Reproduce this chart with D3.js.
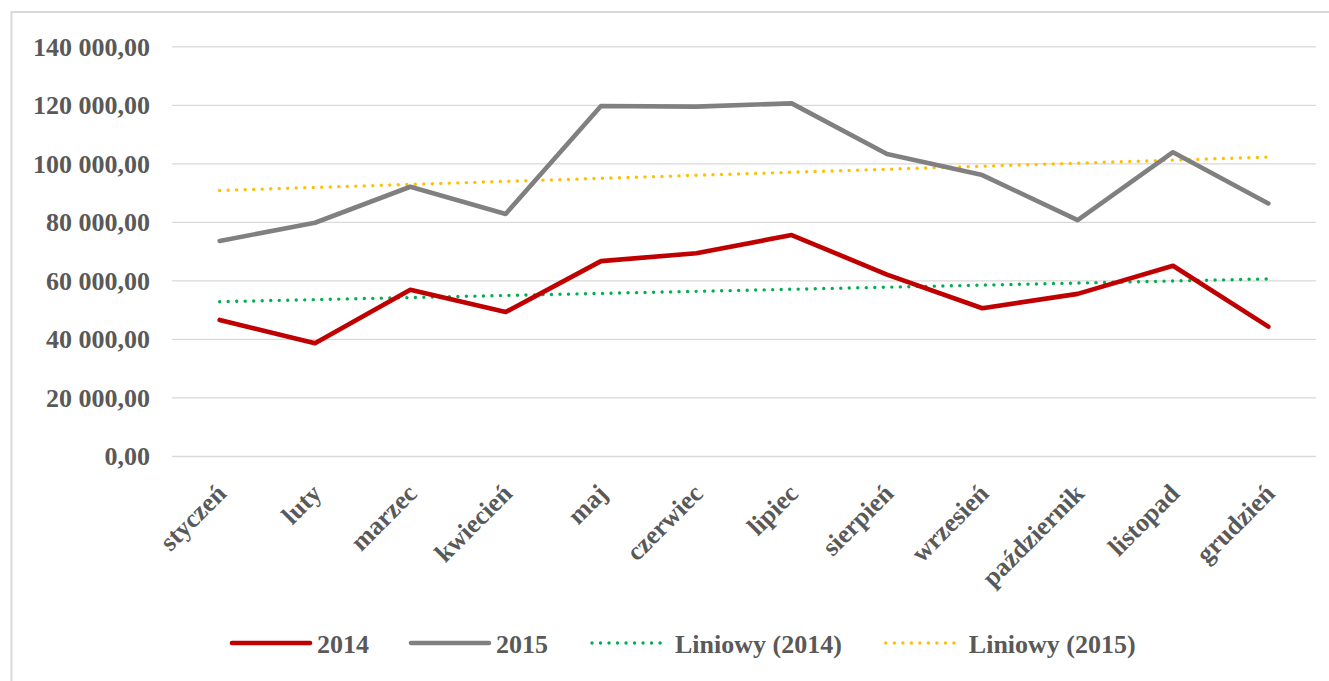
<!DOCTYPE html>
<html>
<head>
<meta charset="utf-8">
<script src="https://cdn.jsdelivr.net/npm/d3@7/dist/d3.min.js"></script>
<style>
  html, body { margin: 0; padding: 0; background: #ffffff; }
  svg { display: block; }
  text { font-family: "Liberation Serif", "Times New Roman", serif; font-weight: bold; fill: #595959; }
</style>
</head>
<body>
<svg id="chart" width="1329" height="681"></svg>
<script>
const months = ["styczeń","luty","marzec","kwiecień","maj","czerwiec","lipiec","sierpień","wrzesień","październik","listopad","grudzień"];
const values2014 = [46500, 38500, 56800, 49200, 66600, 69300, 75500, 62000, 50500, 55400, 65000, 44200];
const values2015 = [73500, 79700, 92000, 82700, 119600, 119400, 120500, 103200, 96000, 80600, 103800, 86300];
const yTicks = [0, 20000, 40000, 60000, 80000, 100000, 120000, 140000];
const legendLabels = ["2014", "2015", "Liniowy (2014)", "Liniowy (2015)"];

const colors = { s2014: "#C00000", s2015: "#808080", t2014: "#00B050", t2015: "#FFC000" };

const svg = d3.select("#chart");
const plot = { left: 172, right: 1316, top: 46.3, bottom: 456 };

// outer frame
svg.append("rect").attr("x", 11.5).attr("y", 12).attr("width", 1340).attr("height", 700)
  .attr("fill", "none").attr("stroke", "#d9d9d9").attr("stroke-width", 2);

const x = d3.scaleBand().domain(months).range([plot.left, plot.right]).padding(0);
const xc = m => x(m) + x.bandwidth() / 2;
const y = d3.scaleLinear().domain([0, 140000]).range([plot.bottom, plot.top]);

const fmt = v => {
  const s = d3.format(",.2f")(v);
  return s.replace(/,/g, " ").replace(".", ",");
};

// gridlines + y labels via axis
const yAxis = d3.axisLeft(y).tickValues(yTicks).tickSize(-(plot.right - plot.left)).tickFormat(fmt).tickPadding(22);
const gy = svg.append("g").attr("transform", `translate(${plot.left},0)`).call(yAxis);
gy.select(".domain").remove();
gy.selectAll(".tick line").attr("stroke", "#d9d9d9").attr("stroke-width", 1.3);
gy.selectAll(".tick text").attr("font-size", 26).attr("fill", "#595959")
  .style("font-family", '"Liberation Serif", "Times New Roman", serif').style("font-weight", "bold")
  .attr("dy", "0.34em");

// x axis labels
const xAxis = d3.axisBottom(x).tickSize(0).tickPadding(0);
const gx = svg.append("g").attr("transform", `translate(0,${plot.bottom})`).call(xAxis);
gx.select(".domain").remove();
gx.selectAll(".tick text")
  .attr("font-size", 26).attr("fill", "#595959")
  .style("font-family", '"Liberation Serif", "Times New Roman", serif').style("font-weight", "bold")
  .attr("text-anchor", "end")
  .attr("y", 0).attr("dy", 0)
  .attr("transform", "translate(8,39) rotate(-45)");

// lines
const line = d3.line().x((d, i) => xc(months[i])).y(d => y(d));

function trend(vals) {
  const xs = vals.map((_, i) => i + 1);
  const mx = d3.mean(xs), my = d3.mean(vals);
  let num = 0, den = 0;
  xs.forEach((xi, i) => { num += (xi - mx) * (vals[i] - my); den += (xi - mx) * (xi - mx); });
  const b = num / den, a = my - b * mx;
  return xs.map(xi => a + b * xi);
}

const dotted = { width: 3.4, dash: "0.01 8.5" };

svg.append("path").datum(trend(values2015)).attr("d", line).attr("fill", "none")
  .attr("stroke", colors.t2015).attr("stroke-width", dotted.width).attr("stroke-linecap", "round").attr("stroke-dasharray", dotted.dash);
svg.append("path").datum(trend(values2014)).attr("d", line).attr("fill", "none")
  .attr("stroke", colors.t2014).attr("stroke-width", dotted.width).attr("stroke-linecap", "round").attr("stroke-dasharray", dotted.dash);

svg.append("path").datum(values2015).attr("d", line).attr("fill", "none")
  .attr("stroke", colors.s2015).attr("stroke-width", 4.6).attr("stroke-linejoin", "round").attr("stroke-linecap", "round");
svg.append("path").datum(values2014).attr("d", line).attr("fill", "none")
  .attr("stroke", colors.s2014).attr("stroke-width", 4.6).attr("stroke-linejoin", "round").attr("stroke-linecap", "round");

// legend
const legItems = [
  { label: legendLabels[0], color: colors.s2014, dotted: false },
  { label: legendLabels[1], color: colors.s2015, dotted: false },
  { label: legendLabels[2], color: colors.t2014, dotted: true },
  { label: legendLabels[3], color: colors.t2015, dotted: true }
];
const legY = 643;
let lx = 232;
const lg = svg.append("g");
legItems.forEach(it => {
  const g = lg.append("g");
  const sampleLen = 78;
  const ln = g.append("line").attr("x1", lx + (it.dotted ? 2 : 0)).attr("x2", lx + sampleLen - (it.dotted ? 2 : 0))
    .attr("y1", legY).attr("y2", legY).attr("stroke", it.color).attr("stroke-linecap", "round");
  if (it.dotted) ln.attr("stroke-width", dotted.width).attr("stroke-dasharray", dotted.dash);
  else ln.attr("stroke-width", 4.6);
  const t = g.append("text").attr("x", lx + sampleLen + 7).attr("y", legY + 9.5)
    .attr("font-size", 26).text(it.label);
  const w = t.node().getComputedTextLength();
  lx = lx + sampleLen + 7 + w + 42;
});
</script>
</body>
</html>
